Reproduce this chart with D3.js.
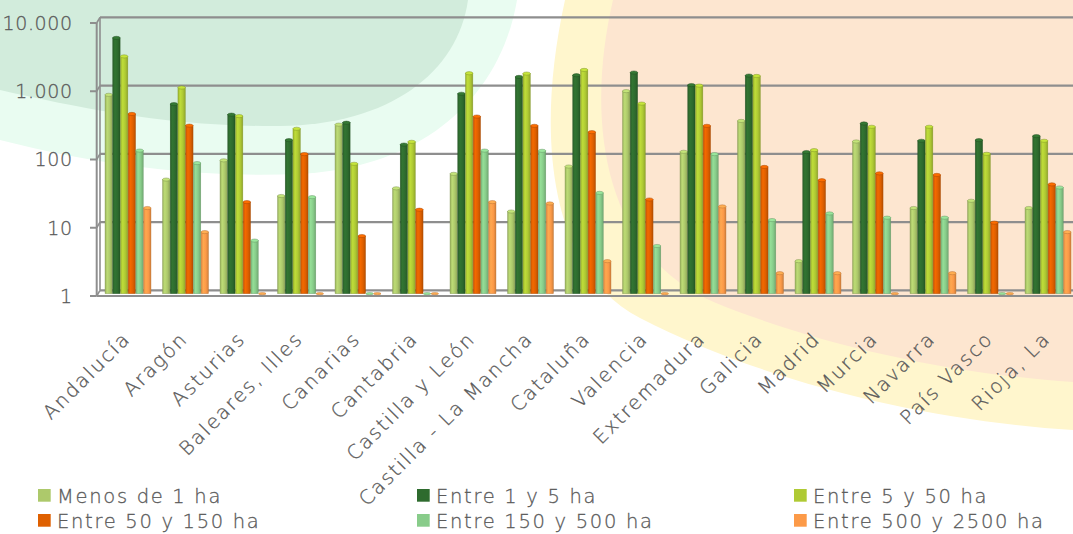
<!DOCTYPE html>
<html>
<head>
<meta charset="utf-8">
<script src="https://cdn.jsdelivr.net/npm/d3@7"></script>
<style>
  html, body { margin: 0; padding: 0; background: #ffffff; }
  svg { display: block; }
  text { font-family: "DejaVu Sans", "Liberation Sans", sans-serif; font-weight: 200;
         fill: #5a5a5a; stroke: #5a5a5a; stroke-width: 0.3px; }
</style>
</head>
<body>
<svg id="chart" width="1073" height="534"></svg>
<script>
// Explotaciones por comunidad autónoma y tamaño (escala logarítmica)
const categories = [
  "Andalucía", "Aragón", "Asturias", "Baleares, Illes", "Canarias", "Cantabria",
  "Castilla y León", "Castilla - La Mancha", "Cataluña", "Valencia", "Extremadura",
  "Galicia", "Madrid", "Murcia", "Navarra", "País Vasco", "Rioja, La"
];

const seriesNames = [
  "Menos de 1 ha", "Entre 1 y 5 ha", "Entre 5 y 50 ha",
  "Entre 50 y 150 ha", "Entre 150 y 500 ha", "Entre 500 y 2500 ha"
];

const menos1    = [820, 47, 90, 27, 300, 35, 57, 16, 73, 930, 120, 340, 3, 170, 18, 23, 18];
const entre1y5  = [5600, 600, 420, 178, 320, 153, 850, 1500, 1590, 1740, 1140, 1570, 119, 312, 174, 178, 204];
const entre5y50 = [3000, 1050, 400, 261, 80, 168, 1700, 1680, 1900, 610, 1120, 1550, 127, 279, 279, 112, 174];
const entre50y150   = [430, 290, 22, 111, 7, 17, 394, 288, 233, 24, 288, 72, 46, 58, 55, 11, 40];
const entre150y500  = [125, 82, 6, 26, 0, 0, 125, 124, 30, 5, 111, 12, 15, 13, 13, 0, 36];
const entre500y2500 = [18, 8, 0, 0, 0, 0, 22, 21, 3, 0, 19, 2, 2, 0, 2, 0, 8];

const seriesValues = [menos1, entre1y5, entre5y50, entre50y150, entre150y500, entre500y2500];

const yTicks = [1, 10, 100, 1000, 10000];
const yTickLabels = ["1", "10", "100", "1.000", "10.000"];

const colors = ["#adc96b", "#2e6b2e", "#afca34", "#df6000", "#88cc8a", "#fc9a48"];

const svg = d3.select("#chart");
const W = 1073, H = 534;

// ---- decorative backdrop ----
const bg = svg.append("g");
bg.append("path").attr("fill", "#e9fcf1")
  .attr("d", "M0,0 L0,140 C100,166 200,178 300,174 C420,168 500,100 517,0 Z");
bg.append("path").attr("fill", "#d2ecdc")
  .attr("d", "M0,0 L0,90 C80,108 170,127 280,126 C390,125 458,72 468,0 Z");
bg.append("path").attr("fill", "#fff6cd")
  .attr("d", "M565,0 C532,150 556,275 640,318 C760,380 920,420 1073,430 L1073,0 Z");
bg.append("path").attr("fill", "#fde6d0")
  .attr("d", "M613,0 C585,120 602,255 716,303 C820,345 950,374 1073,382 L1073,0 Z");

// ---- scales ----
// front plane of the 3D box; the back wall and bar plane are shifted copies
const y = d3.scaleLog().domain([1, 10000]).range([296, 23]);
const depth = { dx: 3.3, dy: -5.7 };
const barShiftY = -2.3;

const x0 = d3.scaleBand().domain(categories).range([99.25, 1076.75])
  .paddingInner(0.2).paddingOuter(0.1);
const x1 = d3.scaleBand().domain(seriesNames).range([0, x0.bandwidth()]).paddingInner(0.04);

const gridColor = "#8e8e8e";

// ---- back wall gridlines ----
const back = svg.append("g").attr("transform", `translate(${depth.dx},${depth.dy})`);
back.selectAll("line.grid").data(yTicks).join("line")
  .attr("x1", 96.7).attr("x2", W + 5)
  .attr("y1", d => y(d)).attr("y2", d => y(d))
  .attr("stroke", gridColor).attr("stroke-width", 2.2);
back.append("line")
  .attr("x1", 96.7).attr("x2", 96.7).attr("y1", y(10000)).attr("y2", y(1))
  .attr("stroke", gridColor).attr("stroke-width", 1.6);

// side wall connectors between front ticks and back gridlines
svg.append("g").selectAll("line").data(yTicks).join("line")
  .attr("x1", 96.7).attr("y1", d => y(d))
  .attr("x2", 96.7 + depth.dx).attr("y2", d => y(d) + depth.dy)
  .attr("stroke", gridColor).attr("stroke-width", 1.6);

// floor front edge
svg.append("line")
  .attr("x1", 96.7).attr("x2", W + 5).attr("y1", y(1)).attr("y2", y(1))
  .attr("stroke", gridColor).attr("stroke-width", 2);

// ---- bar gradients ----
const defs = svg.append("defs");
colors.forEach((c, i) => {
  const base = d3.color(c);
  const g = defs.append("linearGradient").attr("id", "bar" + i)
    .attr("x1", "0%").attr("x2", "100%").attr("y1", "0%").attr("y2", "0%");
  g.append("stop").attr("offset", "0%").attr("stop-color", base.darker(0.35));
  g.append("stop").attr("offset", "30%").attr("stop-color", base.brighter(0.25));
  g.append("stop").attr("offset", "65%").attr("stop-color", base);
  g.append("stop").attr("offset", "100%").attr("stop-color", base.darker(0.55));
});

// ---- bars ----
const barLayer = svg.append("g").attr("transform", `translate(0,${barShiftY})`);
const groups = barLayer.selectAll("g.cat").data(categories).join("g")
  .attr("transform", d => `translate(${x0(d)},0)`);

groups.each(function (cat, ci) {
  const g = d3.select(this);
  seriesNames.forEach((s, si) => {
    const v = seriesValues[si][ci];
    const w = x1.bandwidth();
    const bx = x1(s);
    const top = y(Math.max(v, 1));
    const base = d3.color(colors[si]);
    if (v > 1) {
      g.append("rect")
        .attr("x", bx).attr("y", top).attr("width", w).attr("height", y(1) - top)
        .attr("fill", `url(#bar${si})`)
        .attr("stroke", base.darker(0.9)).attr("stroke-width", 0.5)
        .attr("stroke-opacity", 0.7);
    }
    g.append("ellipse")
      .attr("cx", bx + w / 2).attr("cy", top)
      .attr("rx", w / 2).attr("ry", v > 1 ? 1.6 : 1.1)
      .attr("fill", base.brighter(0.35))
      .attr("stroke", base.darker(0.9)).attr("stroke-width", 0.6)
      .attr("stroke-opacity", 0.8);
  });
});

// ---- value axis (front) ----
svg.append("line")
  .attr("x1", 96.7).attr("x2", 96.7).attr("y1", y(10000)).attr("y2", y(1))
  .attr("stroke", gridColor).attr("stroke-width", 2);
svg.append("g").selectAll("line").data(yTicks).join("line")
  .attr("x1", 90).attr("x2", 96.7).attr("y1", d => y(d)).attr("y2", d => y(d))
  .attr("stroke", gridColor).attr("stroke-width", 2);
svg.append("g").selectAll("text").data(yTicks).join("text")
  .attr("x", 72.7).attr("y", d => y(d)).attr("dy", "0.36em")
  .attr("text-anchor", "end")
  .style("font-size", "19px").style("letter-spacing", "0.6px")
  .text((d, i) => yTickLabels[i]);

// ---- category labels ----
svg.append("g").selectAll("text").data(categories).join("text")
  .attr("text-anchor", "end")
  .attr("transform", d => `translate(${x0(d) + x0.bandwidth() / 2 + 3.5},340) rotate(-45)`)
  .style("font-size", "19.5px").style("letter-spacing", "2px")
  .text(d => d);

// ---- legend ----
const legendCols = [38, 417, 794];
const legendRows = [489, 514];
const legend = svg.append("g").selectAll("g").data(seriesNames).join("g")
  .attr("transform", (d, i) => `translate(${legendCols[i % 3]},${legendRows[Math.floor(i / 3)]})`);
legend.append("rect").attr("width", 12.7).attr("height", 12.7)
  .attr("fill", (d, i) => colors[i]);
legend.append("text").attr("x", 19).attr("y", 14)
  .style("font-size", "19.5px").style("letter-spacing", "1.7px")
  .text(d => d);
</script>
</body>
</html>
